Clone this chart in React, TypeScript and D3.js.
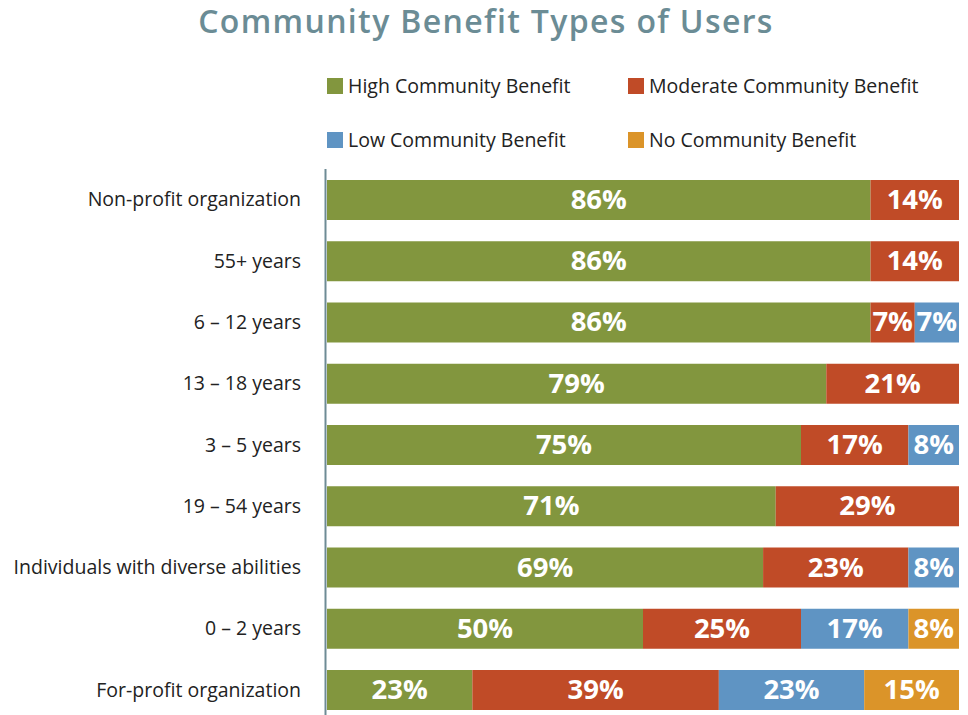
import React from "react";
import * as d3 from "d3";

const categories = [
  "Non-profit organization",
  "55+ years",
  "6 – 12 years",
  "13 – 18 years",
  "3 – 5 years",
  "19 – 54 years",
  "Individuals with diverse abilities",
  "0 – 2 years",
  "For-profit organization",
];
const seriesNames = [
  "High Community Benefit",
  "Moderate Community Benefit",
  "Low Community Benefit",
  "No Community Benefit",
];
const high = [86, 86, 86, 79, 75, 71, 69, 50, 23];
const moderate = [14, 14, 7, 21, 17, 29, 23, 25, 39];
const low = [0, 0, 7, 0, 8, 0, 8, 17, 23];
const none = [0, 0, 0, 0, 0, 0, 0, 8, 15];
const colors = ["#82963e", "#c04b27", "#5f94c3", "#db9429"];

const W = 968;
const H = 715;
const left = 327;
const right = 959;

export default function App() {
  const series = [high, moderate, low, none];
  const x = d3.scaleLinear().domain([0, 100]).range([left, right]);
  const y = d3
    .scaleBand<string>()
    .domain(categories)
    .range([180, 710])
    .paddingInner(0.347)
    .paddingOuter(0);
  const font = "'Open Sans', sans-serif";
  return (
    <svg
      width={W}
      height={H}
      style={{ position: "absolute", left: 0, top: 0, display: "block" }}
    >
      <rect width={W} height={H} fill="#fff" />
      <text
        x={486}
        y={33}
        textAnchor="middle"
        fontFamily={font}
        fontWeight={600}
        fontSize={32}
        fill="#6b8c95"
        letterSpacing={1.35}
      >
        Community Benefit Types of Users
      </text>
      {seriesNames.map((name, i) => {
        const lx = i % 2 === 0 ? 327 : 628;
        const ly = i < 2 ? 78 : 132;
        return (
          <g key={name}>
            <rect x={lx} y={ly} width={16} height={16} fill={colors[i]} />
            <text
              x={lx + 21}
              y={ly + 15}
              fontFamily={font}
              fontSize={19.5}
              fill="#222"
            >
              {name}
            </text>
          </g>
        );
      })}
      {categories.map((c, ci) => {
        let acc = 0;
        const y0 = y(c)!;
        const bh = y.bandwidth();
        return (
          <g key={c}>
            <text
              x={301}
              y={y0 + bh / 2 + 6.5}
              textAnchor="end"
              fontFamily={font}
              fontSize={19.5}
              fill="#222"
            >
              {c}
            </text>
            {series.map((s, si) => {
              const v = s[ci];
              const x0 = x(acc);
              acc += v;
              const x1 = x(acc);
              if (v <= 0) return null;
              return (
                <g key={si}>
                  <rect x={x0} y={y0} width={x1 - x0} height={bh} fill={colors[si]} />
                  <text
                    x={(x0 + x1) / 2}
                    y={y0 + bh / 2 + 9}
                    textAnchor="middle"
                    fontFamily={font}
                    fontWeight={700}
                    fontSize={27.5}
                    fill="#fff"
                  >
                    {v}%
                  </text>
                </g>
              );
            })}
          </g>
        );
      })}
      <line x1={325.5} x2={325.5} y1={169} y2={715} stroke="#6e8b95" strokeWidth={2} />
    </svg>
  );
}
